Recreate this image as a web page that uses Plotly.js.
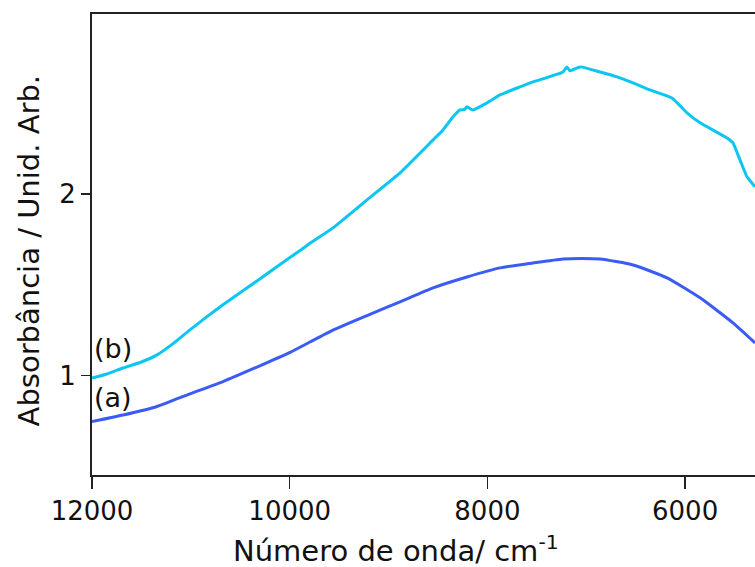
<!DOCTYPE html>
<html>
<head>
<meta charset="utf-8">
<script src="https://cdn.plot.ly/plotly-3.0.1.min.js"></script>
<style>
  html, body { margin: 0; padding: 0; background: #ffffff; overflow: hidden; }
  #chart { width: 755px; height: 567px; }
</style>
</head>
<body>
<div id="chart"></div>
<script>
// NIR absorbance spectra, wavenumber axis runs from high to low
const waveB = [12000, 11850, 11686, 11500, 11342, 11170, 11009, 10840, 10675, 10331,
               9997, 9895, 9795, 9562, 9218, 8884, 8550, 8449, 8348, 8277, 8230, 8207,
               8146, 8004, 7873, 7670, 7539, 7235, 7195, 7165, 7063, 6861, 6689, 6527,
               6355, 6133, 5981, 5849, 5576, 5516, 5445, 5374, 5293];
const absB  = [0.986, 1.009, 1.042, 1.075, 1.114, 1.180, 1.252, 1.323, 1.390, 1.521,
               1.650, 1.688, 1.728, 1.813, 1.967, 2.116, 2.297, 2.352, 2.424, 2.462, 2.465, 2.479,
               2.462, 2.501, 2.545, 2.589, 2.616, 2.671, 2.699, 2.677, 2.699, 2.671, 2.644, 2.611,
               2.572, 2.528, 2.446, 2.391, 2.308, 2.281, 2.187, 2.094, 2.039];

const waveA = [12000, 11686, 11342, 11009, 10675, 10331, 9997, 9795, 9562, 9218,
               8884, 8550, 8207, 7873, 7539, 7235, 7050, 6861, 6527, 6183,
               5849, 5516, 5293];
const absA  = [0.747, 0.783, 0.830, 0.900, 0.967, 1.047, 1.128, 1.185, 1.250, 1.330,
               1.406, 1.483, 1.543, 1.593, 1.620, 1.642, 1.645, 1.642, 1.609, 1.538,
               1.428, 1.290, 1.180];

const xTicks = [12000, 10000, 8000, 6000];
const yTicks = [1, 2];
const curveLabels = ['(a)', '(b)'];
const labelY = [0.88, 1.147];

const FONT = 'DejaVu Sans, Arial, sans-serif';

const traces = [
  { x: waveA, y: absA, type: 'scatter', mode: 'lines',
    line: { color: '#3a5bf5', width: 3, shape: 'spline', smoothing: 0.5 }, hoverinfo: 'skip' },
  { x: waveB, y: absB, type: 'scatter', mode: 'lines',
    line: { color: '#0cc6f2', width: 3, shape: 'spline', smoothing: 0.4 }, hoverinfo: 'skip' }
];

const annotations = curveLabels.map((t, i) => ({
  text: t, x: 12000, y: labelY[i], xref: 'x', yref: 'y',
  xanchor: 'left', yanchor: 'middle', xshift: 0, showarrow: false,
  font: { family: FONT, size: 27, color: '#111' }
}));

// axis titles
annotations.push({
  text: 'Absorbância / Unid. Arb.', textangle: -90,
  xref: 'paper', yref: 'paper', x: -0.095, y: 0.485,
  xanchor: 'center', yanchor: 'middle', showarrow: false,
  font: { family: FONT, size: 29, color: '#111' }
});
annotations.push({
  text: 'Número de onda/ cm<sup>-1</sup>',
  xref: 'paper', yref: 'paper', x: 0.458, y: -0.160,
  xanchor: 'center', yanchor: 'middle', showarrow: false,
  font: { family: FONT, size: 29, color: '#111' }
});

const layout = {
  width: 755, height: 567,
  margin: { l: 92, r: 0, t: 14, b: 92, pad: 0 },
  paper_bgcolor: '#ffffff', plot_bgcolor: '#ffffff',
  showlegend: false,
  font: { family: FONT, size: 26, color: '#111' },
  xaxis: {
    range: [12000, 5293], tickvals: xTicks, ticktext: xTicks.map(String),
    ticks: 'outside', ticklen: 12, tickwidth: 1.5, tickcolor: '#222',
    showline: true, linecolor: '#222', linewidth: 2, mirror: true,
    showgrid: false, zeroline: false,
    tickfont: { family: FONT, size: 26, color: '#111' }
  },
  yaxis: {
    range: [0.453, 2.99], tickvals: yTicks, ticktext: yTicks.map(String),
    ticks: 'outside', ticklen: 9, tickwidth: 1.5, tickcolor: '#222',
    showline: true, linecolor: '#222', linewidth: 2, mirror: false,
    showgrid: false, zeroline: false,
    tickfont: { family: FONT, size: 26, color: '#111' }
  },
  annotations: annotations
};

Plotly.newPlot('chart', traces, layout, { displayModeBar: false, staticPlot: true });
</script>
</body>
</html>
